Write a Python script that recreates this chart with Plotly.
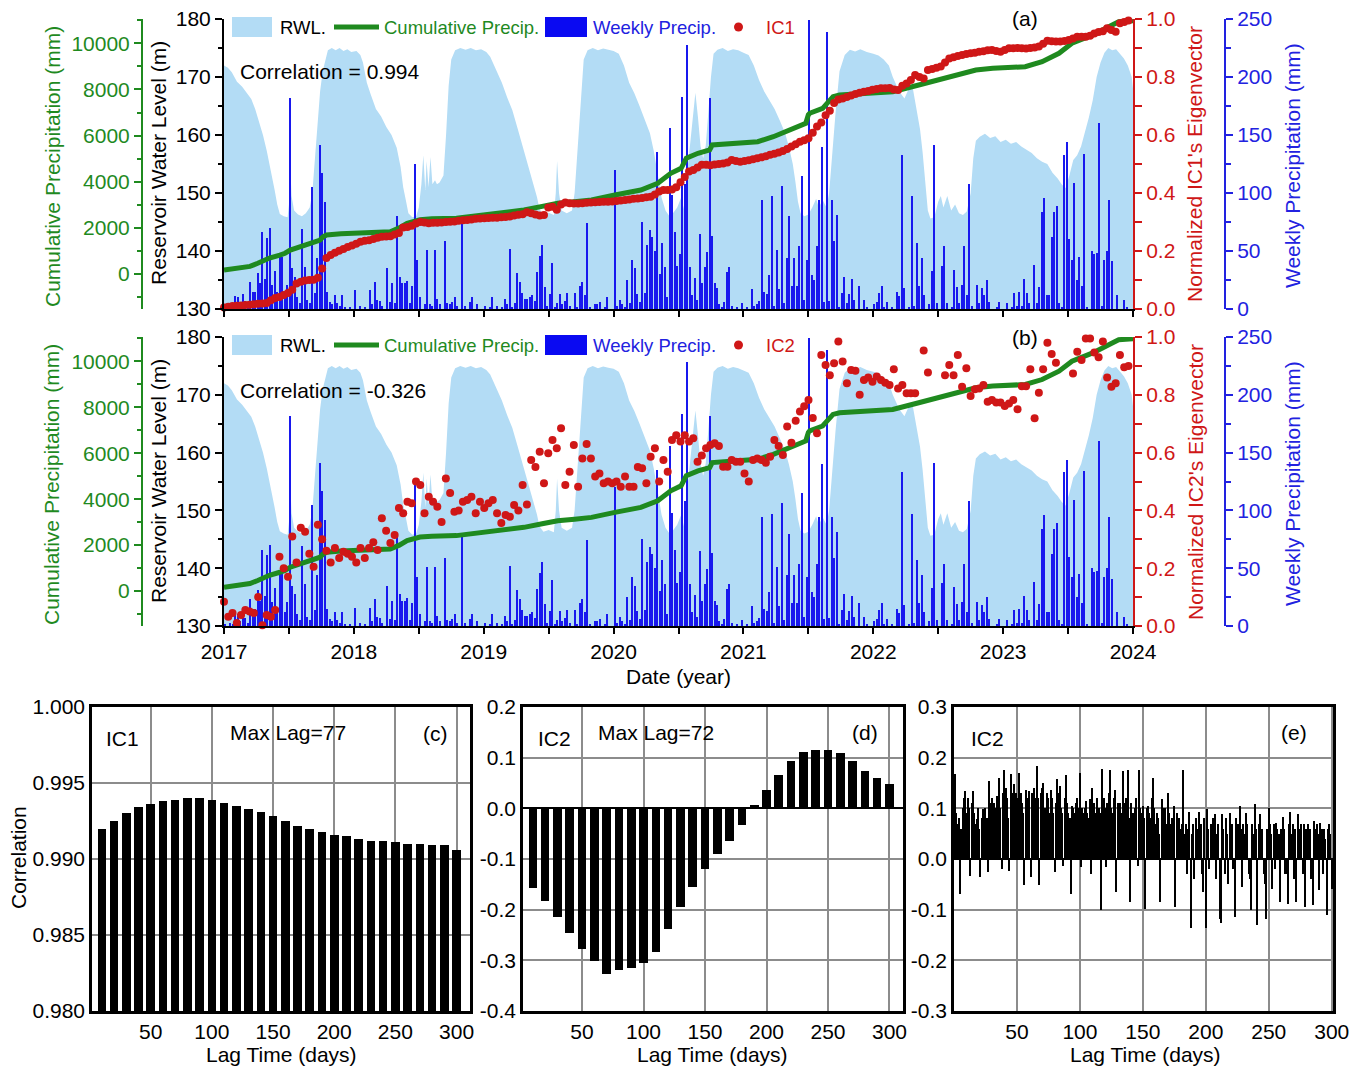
import plotly.graph_objects as go

# ---------------- data ----------------
# Reservoir water level (m), decimal year -> level
rwl_year = [
    2017.00, 2017.03, 2017.06, 2017.10, 2017.14, 2017.18, 2017.21, 2017.24, 2017.27, 2017.30,
    2017.33, 2017.36, 2017.39, 2017.41, 2017.43, 2017.46, 2017.49, 2017.50, 2017.51, 2017.52,
    2017.54, 2017.57, 2017.60, 2017.63, 2017.66, 2017.68, 2017.70, 2017.72, 2017.74, 2017.76,
    2017.78, 2017.80, 2017.83, 2017.86, 2017.89, 2017.92, 2017.95, 2017.98,
    2018.02, 2018.05, 2018.07, 2018.10, 2018.13, 2018.17, 2018.21, 2018.25, 2018.29, 2018.33,
    2018.36, 2018.38, 2018.40, 2018.42, 2018.45, 2018.48, 2018.50, 2018.52, 2018.535, 2018.55,
    2018.56, 2018.575, 2018.59, 2018.605, 2018.625, 2018.64, 2018.66, 2018.69, 2018.71, 2018.73,
    2018.75, 2018.78, 2018.82, 2018.86, 2018.90, 2018.94, 2018.98,
    2019.02, 2019.05, 2019.08, 2019.11, 2019.14, 2019.18, 2019.22, 2019.26, 2019.30, 2019.33,
    2019.36, 2019.39, 2019.41, 2019.43, 2019.46, 2019.50, 2019.54, 2019.555, 2019.565, 2019.58,
    2019.60, 2019.64, 2019.68, 2019.70, 2019.72, 2019.745, 2019.77, 2019.80, 2019.84, 2019.88,
    2019.92, 2019.96,
    2020.00, 2020.04, 2020.08, 2020.12, 2020.16, 2020.20, 2020.24, 2020.28, 2020.31, 2020.34,
    2020.37, 2020.40, 2020.43, 2020.46, 2020.49, 2020.52, 2020.545, 2020.56, 2020.59, 2020.61,
    2020.63, 2020.65, 2020.67, 2020.69, 2020.71, 2020.73, 2020.75, 2020.77, 2020.80, 2020.84,
    2020.88, 2020.92, 2020.96,
    2021.00, 2021.04, 2021.08, 2021.12, 2021.16, 2021.20, 2021.24, 2021.28, 2021.32, 2021.35,
    2021.38, 2021.40, 2021.42, 2021.44, 2021.47, 2021.50, 2021.53, 2021.56, 2021.58, 2021.61,
    2021.64, 2021.66, 2021.68, 2021.71, 2021.74, 2021.78, 2021.82, 2021.86, 2021.90, 2021.95,
    2022.00, 2022.04, 2022.08, 2022.12, 2022.15, 2022.18, 2022.20, 2022.24, 2022.27, 2022.30,
    2022.33, 2022.36, 2022.38, 2022.40, 2022.42, 2022.44, 2022.47, 2022.50, 2022.52, 2022.54,
    2022.57, 2022.60, 2022.63, 2022.66, 2022.69, 2022.72, 2022.75, 2022.77, 2022.79, 2022.82,
    2022.86, 2022.90, 2022.94, 2022.98,
    2023.02, 2023.06, 2023.10, 2023.14, 2023.18, 2023.22, 2023.26, 2023.30, 2023.34, 2023.38,
    2023.42, 2023.45, 2023.48, 2023.51, 2023.54, 2023.57, 2023.60, 2023.63, 2023.66, 2023.69,
    2023.72, 2023.75, 2023.78, 2023.81, 2023.84, 2023.87, 2023.90, 2023.93, 2023.96, 2023.99,
    2024.00,
]
rwl_level = [
    172.0, 171.6, 170.8, 169.2, 168.3, 167.0, 166.2, 164.5, 162.3, 160.0,
    157.2, 154.0, 150.5, 148.0, 146.4, 146.0, 145.8, 148.0, 155.0, 149.5,
    147.0, 146.3, 146.0, 146.5, 147.5, 150.0, 156.0, 162.5, 167.5, 171.0,
    173.0, 174.6, 175.0, 174.6, 175.0, 174.5, 174.8, 174.3,
    174.5, 173.8, 172.5, 169.0, 167.0, 164.5, 163.2, 161.4, 160.0, 157.8,
    154.5, 151.0, 148.8, 146.5, 145.8, 146.0, 147.5, 151.5, 156.5, 150.5,
    155.5, 151.0, 156.2, 151.5, 152.2, 151.5, 151.8, 153.0, 160.0, 168.5,
    173.0, 174.6, 175.0, 174.7, 175.0, 174.6, 174.8,
    174.3, 173.5, 172.0, 170.6, 169.0, 166.5, 164.3, 161.2, 158.0, 155.6,
    153.2, 151.0, 149.3, 147.2, 146.3, 146.6, 146.2, 150.0, 155.5, 150.0,
    147.0, 146.5, 147.0, 150.0, 157.0, 166.0, 173.0, 174.6, 175.0, 174.6,
    174.9, 174.7,
    174.5, 174.0, 172.0, 169.0, 167.2, 165.0, 162.6, 160.3, 157.2, 153.0,
    149.2, 147.0, 146.0, 146.6, 147.5, 149.2, 147.0, 152.0, 158.5, 164.0,
    167.3, 163.0, 158.0, 156.0, 158.2, 164.0, 170.0, 174.0, 174.7, 175.0,
    174.5, 174.8, 174.6,
    174.2, 173.8, 172.0, 169.5, 167.5, 166.0, 164.5, 162.5, 160.4, 158.0,
    155.0, 152.0, 148.5, 146.5, 146.0, 146.3, 147.5, 149.0, 147.5, 148.8,
    147.5, 150.0, 156.0, 164.0, 171.0, 173.8, 174.7, 174.4, 174.8, 174.3,
    174.0, 173.7, 173.0, 172.0, 170.0, 168.5, 167.5, 166.3, 167.8, 168.6,
    165.0, 161.0, 157.0, 151.5, 147.0, 145.6, 145.8, 148.5, 149.5, 147.5,
    149.5, 147.0, 148.0, 146.5, 146.2, 146.8, 150.0, 156.0, 159.0, 159.7,
    160.2, 159.5, 159.8, 158.8,
    159.2, 158.5, 158.8, 158.0, 157.5, 156.9, 156.0, 155.4, 155.0, 153.5,
    152.5, 151.5, 150.8, 153.0, 155.7, 156.5, 158.0, 160.5, 163.0, 166.0,
    170.0, 172.5, 174.2, 175.0, 174.6, 174.8, 174.0, 173.2, 172.0, 170.0,
    168.0,
]

# Cumulative precipitation (mm)
cum_year = [
    2017.00, 2017.10, 2017.20, 2017.26, 2017.30, 2017.35, 2017.43, 2017.47, 2017.51, 2017.58,
    2017.66, 2017.74, 2017.76, 2017.79, 2017.90, 2018.10, 2018.28, 2018.35, 2018.41, 2018.51,
    2018.60, 2018.79, 2019.02, 2019.15, 2019.31, 2019.45, 2019.57, 2019.70, 2019.83, 2020.01,
    2020.21, 2020.34, 2020.44, 2020.52, 2020.54, 2020.56, 2020.65, 2020.74, 2020.76, 2020.90,
    2021.11, 2021.23, 2021.38, 2021.48, 2021.50, 2021.51, 2021.61, 2021.69, 2021.74, 2021.95,
    2022.15, 2022.35, 2022.50, 2022.66, 2022.79, 2022.92, 2023.17, 2023.30, 2023.43, 2023.53,
    2023.69, 2023.84, 2023.89, 2024.00,
]
cum_mm = [
    170, 230, 330, 464, 560, 690, 820, 900, 1040, 1170,
    1330, 1474, 1600, 1690, 1740, 1780, 1834, 2000, 2200, 2350,
    2390, 2414, 2560, 2660, 2774, 2930, 3064, 3130, 3208, 3424,
    3641, 3931, 4365, 4582, 4800, 5015, 5232, 5375, 5592, 5650,
    5735, 5951, 6315, 6532, 6900, 6966, 7182, 7686, 7759, 7830,
    7902, 8192, 8420, 8626, 8843, 8917, 8986, 9203, 9567, 10000,
    10360, 10793, 10936, 10980,
]

# Weekly precipitation (mm), 52 weeks per year
precip_2017 = [2, 0, 3, 1, 11, 10, 4, 13, 7, 3, 23, 15, 15, 31, 22, 66, 26, 61, 70, 21,
               33, 15, 46, 45, 12, 21, 182, 35, 28, 10, 5, 69, 36, 8, 5, 105, 14, 44, 141, 117,
               92, 15, 6, 4, 12, 5, 3, 12, 1, 0, 2, 0]
precip_2018 = [16, 0, 3, 0, 2, 0, 16, 4, 23, 8, 7, 3, 0, 35, 6, 22, 5, 80, 28, 22,
               22, 24, 5, 20, 125, 42, 10, 0, 4, 51, 4, 3, 51, 9, 4, 0, 59, 5, 4, 6,
               10, 3, 0, 80, 3, 0, 6, 10, 0, 4, 0, 0]
precip_2019 = [3, 0, 2, 10, 0, 3, 0, 2, 9, 4, 52, 2, 5, 31, 23, 14, 9, 9, 10, 12,
               7, 32, 46, 55, 19, 3, 13, 40, 2, 5, 13, 4, 7, 14, 3, 0, 14, 2, 20, 23,
               12, 74, 2, 0, 4, 4, 6, 0, 2, 10, 0, 0]
precip_2020 = [120, 3, 8, 4, 2, 25, 5, 42, 35, 13, 6, 75, 14, 55, 68, 62, 50, 135, 30, 57,
               36, 10, 156, 98, 66, 37, 47, 183, 108, 228, 36, 12, 27, 8, 65, 22, 36, 49, 182, 63,
               22, 18, 4, 2, 6, 32, 36, 3, 0, 2, 0, 5]
precip_2021 = [0, 2, 0, 17, 3, 4, 7, 94, 15, 13, 29, 97, 3, 51, 17, 106, 5, 44, 80, 20,
               44, 20, 54, 115, 8, 42, 249, 29, 25, 54, 94, 140, 6, 239, 7, 94, 59, 81, 2, 14,
               28, 5, 13, 26, 8, 0, 20, 0, 8, 2, 0, 0]
precip_2022 = [4, 6, 14, 20, 2, 6, 0, 2, 0, 15, 11, 133, 18, 0, 2, 97, 3, 57, 20, 44,
               12, 0, 4, 33, 141, 5, 0, 37, 54, 5, 0, 2, 34, 19, 5, 21, 54, 12, 108, 3,
               0, 21, 5, 18, 12, 25, 6, 0, 0, 2, 6, 0]
precip_2023 = [0, 5, 0, 2, 14, 3, 15, 3, 26, 14, 5, 0, 38, 5, 19, 84, 96, 12, 12, 62,
               84, 89, 5, 2, 133, 144, 60, 42, 109, 25, 45, 20, 134, 2, 0, 50, 47, 48, 160, 3,
               42, 50, 94, 41, 0, 12, 0, 0, 8, 2, 0, 0]
weekly_by_year = {2017: precip_2017, 2018: precip_2018, 2019: precip_2019, 2020: precip_2020,
                  2021: precip_2021, 2022: precip_2022, 2023: precip_2023}

# Normalized eigenvectors, one value per 12-day acquisition starting 2017-01-01
ic1 = [
    0.005, 0.008, 0.010, 0.011, 0.012, 0.014, 0.015, 0.016, 0.018, 0.019,
    0.021, 0.030, 0.038, 0.041, 0.048, 0.055, 0.066, 0.088, 0.094, 0.098,
    0.100, 0.101, 0.108, 0.140, 0.176, 0.186, 0.194, 0.201, 0.207, 0.214,
    0.219, 0.225, 0.232, 0.235, 0.237, 0.241, 0.246, 0.249, 0.250, 0.251,
    0.257, 0.262, 0.281, 0.283, 0.287, 0.295, 0.300, 0.298, 0.296, 0.297,
    0.297, 0.298, 0.300, 0.301, 0.302, 0.304, 0.306, 0.307, 0.309, 0.311,
    0.312, 0.313, 0.314, 0.315, 0.315, 0.316, 0.317, 0.319, 0.322, 0.325,
    0.327, 0.334, 0.330, 0.326, 0.322, 0.324, 0.350, 0.353, 0.342, 0.360,
    0.367, 0.365, 0.364, 0.364, 0.365, 0.366, 0.367, 0.368, 0.369, 0.370,
    0.370, 0.371, 0.372, 0.374, 0.376, 0.378, 0.380, 0.381, 0.383, 0.385,
    0.387, 0.395, 0.405, 0.410, 0.410, 0.412, 0.420, 0.437, 0.455, 0.474,
    0.479, 0.488, 0.497, 0.497, 0.496, 0.498, 0.500, 0.502, 0.505, 0.514,
    0.510, 0.508, 0.510, 0.513, 0.516, 0.520, 0.523, 0.527, 0.532, 0.535,
    0.540, 0.545, 0.552, 0.560, 0.568, 0.577, 0.582, 0.589, 0.608, 0.629,
    0.643, 0.668, 0.684, 0.710, 0.722, 0.726, 0.731, 0.736, 0.741, 0.746,
    0.749, 0.752, 0.756, 0.759, 0.761, 0.761, 0.762, 0.757, 0.755, 0.770,
    0.778, 0.790, 0.807, 0.800, 0.795, 0.824, 0.828, 0.832, 0.836, 0.850,
    0.864, 0.868, 0.872, 0.876, 0.879, 0.882, 0.884, 0.887, 0.889, 0.892,
    0.893, 0.890, 0.887, 0.893, 0.899, 0.899, 0.900, 0.899, 0.898, 0.900,
    0.902, 0.905, 0.915, 0.925, 0.923, 0.922, 0.922, 0.924, 0.928, 0.933,
    0.939, 0.939, 0.939, 0.942, 0.950, 0.955, 0.958, 0.968, 0.962, 0.956,
    0.985, 0.990, 0.995,
]
ic2 = [
    0.084, 0.032, 0.045, 0.010, 0.038, 0.055, 0.050, 0.045, 0.100, 0.003,
    0.038, 0.032, 0.055, 0.240, 0.200, 0.170, 0.310, 0.220, 0.340, 0.326,
    0.250, 0.205, 0.350, 0.300, 0.260, 0.220, 0.270, 0.235, 0.257, 0.250,
    0.240, 0.220, 0.270, 0.235, 0.270, 0.290, 0.263, 0.373, 0.330, 0.287,
    0.315, 0.408, 0.390, 0.430, 0.425, 0.500, 0.488, 0.390, 0.447, 0.430,
    0.413, 0.360, 0.510, 0.460, 0.395, 0.400, 0.430, 0.436, 0.447, 0.390,
    0.430, 0.408, 0.425, 0.436, 0.390, 0.356, 0.384, 0.378, 0.419, 0.400,
    0.488, 0.420, 0.574, 0.550, 0.603, 0.494, 0.598, 0.644, 0.615, 0.684,
    0.488, 0.534, 0.626, 0.482, 0.580, 0.630, 0.580, 0.517, 0.528, 0.494,
    0.500, 0.494, 0.500, 0.482, 0.517, 0.482, 0.482, 0.550, 0.546, 0.494,
    0.586, 0.615, 0.500, 0.574, 0.534, 0.644, 0.660, 0.638, 0.660, 0.638,
    0.650, 0.568, 0.590, 0.615, 0.626, 0.632, 0.623, 0.551, 0.551, 0.574,
    0.568, 0.568, 0.528, 0.500, 0.574, 0.580, 0.574, 0.565, 0.586, 0.644,
    0.623, 0.592, 0.690, 0.634, 0.710, 0.742, 0.760, 0.782, 0.720, 0.667,
    0.938, 0.903, 0.868, 0.909, 0.984, 0.915, 0.840, 0.886, 0.883, 0.800,
    0.851, 0.860, 0.845, 0.863, 0.851, 0.842, 0.834, 0.888, 0.822, 0.834,
    0.805, 0.805, 0.805, None, 0.953, 0.877, None, None, None, 0.868,
    0.903, 0.868, 0.938, 0.828, 0.892, 0.796, 0.819, 0.822, 0.834, 0.776,
    0.782, 0.773, 0.773, 0.761, 0.770, 0.782, 0.750, 0.830, 0.830, 0.888,
    0.719, 0.807, 0.888, 0.980, 0.941, 0.911, None, None, None, 0.874,
    0.949, 0.920, 0.995, 0.995, 0.946, 0.930, 0.984, 0.860, 0.828, 0.840,
    0.938, 0.895, 0.900,
]

# Lagged cross-correlation
lag_10 = list(range(10, 301, 10))
corr_ic1 = [0.9920, 0.9925, 0.9930, 0.9934, 0.9936, 0.9938, 0.9939, 0.9940, 0.9940, 0.9939,
            0.9937, 0.9935, 0.9933, 0.9931, 0.9928, 0.9925, 0.9922, 0.9920, 0.9918, 0.9916,
            0.9915, 0.9913, 0.9912, 0.9912, 0.9911, 0.9910, 0.9910, 0.9909, 0.9909, 0.9906]
corr_ic2 = [-0.157, -0.182, -0.214, -0.247, -0.278, -0.301, -0.327, -0.319, -0.316, -0.305,
            -0.283, -0.239, -0.195, -0.155, -0.120, -0.091, -0.064, -0.032, 0.007, 0.036,
            0.066, 0.093, 0.112, 0.115, 0.115, 0.110, 0.094, 0.074, 0.060, 0.048]
lag_1 = list(range(1, 301))
corr_ic2_daily = [
    0.167, 0.09, 0.07, 0.08, -0.069, 0.06, 0.1, 0.12, 0.134, 0.09,
    0.12, 0.1, -0.033, 0.11, 0.134, 0.09, 0.07, 0.078, 0.1, 0.06,
    -0.036, 0.08, 0.098, 0.09, 0.1, 0.08, -0.026, 0.154, 0.11, 0.12,
    0.09, 0.11, 0.1, 0.124, 0.12, 0.16, 0.1, -0.02, 0.13, 0.176,
    0.14, 0.12, 0.08, -0.023, 0.167, 0.13, 0.11, 0.149, 0.13, 0.1,
    0.12, 0.17, 0.13, 0.11, 0.09, -0.052, 0.137, 0.12, 0.1, 0.134,
    -0.036, 0.13, 0.11, 0.14, 0.12, 0.184, 0.12, -0.052, 0.13, 0.14,
    0.15, 0.1, 0.09, 0.131, 0.12, 0.09, 0.137, 0.12, 0.09, -0.026,
    0.11, 0.157, 0.13, 0.144, 0.1, 0.09, -0.013, 0.12, 0.165, 0.11,
    0.09, 0.08, -0.069, 0.105, 0.1, 0.09, 0.11, 0.12, 0.1, 0.17,
    -0.016, 0.1, 0.09, 0.1, 0.114, 0.09, 0.08, 0.118, -0.029, 0.14,
    0.11, 0.09, 0.08, 0.12, 0.1, 0.09, -0.101, 0.178, 0.12, 0.1,
    -0.016, 0.11, 0.13, 0.176, 0.1, 0.09, 0.12, 0.137, -0.065, 0.11,
    0.1, 0.11, 0.09, 0.173, 0.11, 0.09, 0.12, 0.176, 0.08, -0.085,
    0.11, 0.09, 0.08, 0.1, 0.12, -0.013, 0.176, 0.1, 0.09, 0.105,
    0.08, -0.098, 0.1, 0.105, 0.09, 0.08, 0.12, 0.16, 0.1, 0.07,
    0.09, 0.08, 0.05, -0.085, 0.118, 0.1, 0.08, 0.1, 0.07, 0.131,
    0.09, 0.07, 0.08, 0.06, 0.105, -0.095, 0.09, 0.07, 0.08, 0.06,
    0.07, 0.176, 0.05, 0.07, -0.03, 0.06, 0.092, -0.137, 0.05, 0.07,
    -0.04, 0.08, 0.06, 0.05, 0.092, 0.07, -0.03, -0.065, 0.08, -0.137,
    0.098, 0.06, -0.02, 0.07, 0.05, 0.08, 0.088, -0.04, 0.05, 0.07,
    -0.118, -0.127, 0.088, 0.06, -0.03, 0.08, 0.05, -0.05, 0.09, 0.06,
    0.07, -0.02, -0.114, 0.08, 0.05, 0.07, 0.105, 0.06, -0.056, 0.07,
    0.05, 0.09, 0.07, -0.03, -0.04, -0.101, 0.07, 0.05, 0.108, 0.06,
    -0.13, 0.07, 0.088, 0.05, 0.06, -0.03, -0.05, -0.118, 0.06, 0.101,
    0.07, 0.05, -0.059, 0.07, -0.02, 0.072, 0.06, 0.05, -0.085, 0.06,
    0.082, 0.06, -0.03, -0.03, -0.088, 0.07, 0.092, 0.05, 0.07, -0.04,
    0.06, -0.085, 0.088, 0.06, 0.05, 0.07, -0.03, 0.069, -0.095, 0.06,
    0.07, 0.05, 0.06, -0.04, -0.091, 0.075, 0.06, 0.07, 0.05, -0.062,
    0.072, 0.06, -0.03, 0.06, 0.04, -0.111, 0.06, 0.069, 0.05, -0.06,
]

# ---------------- derived positions ----------------
week_x, week_mm = [], []
for yr, vals in weekly_by_year.items():
    for k, v in enumerate(vals):
        week_x.append(yr + (k + 0.5) / 52.0)
        week_mm.append(v)
ic_year = [2017 + 12.0 * i / 365.25 for i in range(len(ic1))]

# ---------------- styling ----------------
W, H = 1366, 1068
FONT = "Liberation Sans, Arial, sans-serif"
FS = 21
LEG_FS = 18.5
GREEN = "#1f8a1f"
RED = "#cf1717"
BLUE = "#2222e0"
BAR_BLUE = "#1818ee"
SKY = "#b3dcf5"
GRID = "#8c8c8c"


def fx(px):
    return px / W


def fy(py):
    return 1 - py / H


fig = go.Figure()

panels = [
    # (x axis, level y, weekly y, cumulative y, eigenvector y, eigenvector values)
    ("x", "y", "y2", "y3", "y4", ic1),
    ("x2", "y5", "y6", "y7", "y8", ic2),
]
for xa, yb, yw, yc, yi, icv in panels:
    fig.add_trace(go.Scatter(x=rwl_year, y=rwl_level, mode="lines", fill="tozeroy",
                             fillcolor=SKY, line=dict(width=0, color=SKY),
                             xaxis=xa, yaxis=yb, showlegend=False, hoverinfo="skip"))
    fig.add_trace(go.Bar(x=week_x, y=week_mm, width=0.011,
                         marker=dict(color=BAR_BLUE, line=dict(width=0)),
                         xaxis=xa, yaxis=yw, showlegend=False))
    fig.add_trace(go.Scatter(x=cum_year, y=cum_mm, mode="lines",
                             line=dict(color=GREEN, width=5),
                             xaxis=xa, yaxis=yc, showlegend=False))
    fig.add_trace(go.Scatter(x=ic_year, y=icv, mode="markers", cliponaxis=False,
                             marker=dict(color=RED, size=8, line=dict(width=0)),
                             xaxis=xa, yaxis=yi, showlegend=False))

# lag correlation panels
fig.add_trace(go.Bar(x=lag_10, y=corr_ic1, width=7, marker=dict(color="black", line=dict(width=0)),
                     xaxis="x3", yaxis="y9", showlegend=False))
fig.add_trace(go.Bar(x=lag_10, y=corr_ic2, width=7, marker=dict(color="black", line=dict(width=0)),
                     xaxis="x4", yaxis="y10", showlegend=False))
fig.add_trace(go.Bar(x=lag_1, y=corr_ic2_daily, width=1.0, marker=dict(color="black", line=dict(width=0)),
                     xaxis="x5", yaxis="y11", showlegend=False))

tf = dict(family=FONT, size=FS, color="black")


def time_x(anchor, labels):
    return dict(domain=[fx(224), fx(1133)], range=[2017, 2024], anchor=anchor, automargin=False,
                showline=True, linecolor="black", linewidth=2, mirror=False,
                ticks="outside", ticklen=6, tickwidth=2, tickcolor="black",
                tick0=2017, dtick=1, tickformat="d", showticklabels=labels,
                tickfont=tf, showgrid=False, zeroline=False,
                minor=dict(dtick=0.5, ticks="outside", ticklen=6, tickwidth=2, tickcolor="black"))


def left_level(anchor, dom):
    return dict(domain=dom, range=[130, 180], anchor=anchor, side="left", automargin=False,
                showline=True, linecolor="black", linewidth=2,
                ticks="outside", ticklen=7, tickwidth=2, tickcolor="black",
                dtick=10, tickfont=tf, showgrid=False, zeroline=False,
                minor=dict(dtick=5, ticks="outside", ticklen=4, tickwidth=2, tickcolor="black"))


def weekly_axis(over):
    return dict(overlaying=over, anchor="free", position=fx(1225), side="right", automargin=False,
                range=[0, 250], dtick=50, showline=True, linecolor=BLUE, linewidth=2,
                ticks="outside", ticklen=7, tickwidth=2, tickcolor=BLUE,
                tickfont=dict(family=FONT, size=FS, color=BLUE), showgrid=False, zeroline=False,
                minor=dict(dtick=25, ticks="outside", ticklen=5, tickwidth=2, tickcolor=BLUE))


def cum_axis(over):
    return dict(overlaying=over, anchor="free", position=fx(142), side="left", automargin=False,
                range=[-1517, 11053], tick0=0, dtick=2000, tickformat="d",
                showline=True, linecolor=GREEN, linewidth=2,
                ticks="outside", ticklen=7, tickwidth=2, tickcolor=GREEN,
                tickfont=dict(family=FONT, size=FS, color=GREEN), showgrid=False, zeroline=False,
                minor=dict(dtick=1000, ticks="outside", ticklen=4, tickwidth=2, tickcolor=GREEN))


def ic_axis(over, anchor):
    return dict(overlaying=over, anchor=anchor, side="right", range=[0, 1], automargin=False,
                dtick=0.2, tickformat=".1f", showline=True, linecolor=RED, linewidth=2,
                ticks="outside", ticklen=7, tickwidth=2, tickcolor=RED,
                tickfont=dict(family=FONT, size=FS, color=RED), showgrid=False, zeroline=False,
                minor=dict(dtick=0.1, ticks="outside", ticklen=7, tickwidth=2, tickcolor=RED))


def lag_x(dom, rng, anchor):
    return dict(domain=dom, range=rng, anchor=anchor, automargin=False,
                tickvals=[50, 100, 150, 200, 250, 300],
                showline=True, mirror=True, linecolor="black", linewidth=2.5, ticks="",
                showgrid=True, gridcolor=GRID, gridwidth=2, zeroline=False, tickfont=tf)


def lag_y(rng, vals, texts, anchor, zl):
    return dict(domain=[fy(1011), fy(707)], range=rng, anchor=anchor, automargin=False,
                tickvals=vals, ticktext=texts,
                showline=True, mirror=True, linecolor="black", linewidth=2.5, ticks="",
                showgrid=True, gridcolor=GRID, gridwidth=2, tickfont=tf,
                zeroline=zl, zerolinecolor="black", zerolinewidth=2)


dom_a = [fy(309), fy(19)]
dom_b = [fy(626), fy(337)]

fig.update_layout(
    template="none",
    width=W, height=H, margin=dict(l=0, r=0, t=0, b=0, pad=0),
    paper_bgcolor="white", plot_bgcolor="rgba(0,0,0,0)",
    font=dict(family=FONT, size=FS, color="black"),
    showlegend=False, bargap=0,
    xaxis=time_x("y", False),
    yaxis=left_level("x", dom_a),
    yaxis2=weekly_axis("y"),
    yaxis3=cum_axis("y"),
    yaxis4=ic_axis("y", "x"),
    xaxis2=time_x("y5", True),
    yaxis5=left_level("x2", dom_b),
    yaxis6=weekly_axis("y5"),
    yaxis7=cum_axis("y5"),
    yaxis8=ic_axis("y5", "x2"),
    xaxis3=lag_x([fx(92), fx(470)], [2, 311], "y9"),
    yaxis9=lag_y([0.98, 1.0], [0.98, 0.985, 0.99, 0.995, 1.0],
                 ["0.980", "0.985", "0.990", "0.995", "1.000"], "x3", False),
    xaxis4=lag_x([fx(523), fx(903)], [2, 311], "y10"),
    yaxis10=lag_y([-0.4, 0.2], [-0.4, -0.3, -0.2, -0.1, 0.0, 0.1, 0.2],
                  ["-0.4", "-0.3", "-0.2", "-0.1", "0.0", "0.1", "0.2"], "x4", True),
    xaxis5=lag_x([fx(954), fx(1333)], [0, 301], "y11"),
    yaxis11=lag_y([-0.3, 0.3], [-0.3, -0.2, -0.1, 0.0, 0.1, 0.2, 0.3],
                  ["-0.3", "-0.2", "-0.1", "0.0", "0.1", "0.2", "0.3"], "x5", True),
)

annotations = []
shapes = []


def text(x, y, s, color="black", size=FS, xanchor="center", angle=0):
    annotations.append(dict(x=fx(x), y=fy(y), xref="paper", yref="paper", text=s,
                            showarrow=False, xanchor=xanchor, yanchor="middle",
                            textangle=angle, font=dict(family=FONT, size=size, color=color)))


# legends, panel tags and axis titles for the two time-series panels
for off, ic_name, corr, tag in [(0, "IC1", "Correlation = 0.994", "(a)"),
                                 (318, "IC2", "Correlation = -0.326", "(b)")]:
    cy = 27 + off
    shapes.append(dict(type="rect", xref="paper", yref="paper", x0=fx(232), x1=fx(272),
                       y0=fy(cy + 10), y1=fy(cy - 10), fillcolor=SKY, line=dict(width=0)))
    shapes.append(dict(type="line", xref="paper", yref="paper", x0=fx(334), x1=fx(379),
                       y0=fy(cy), y1=fy(cy), line=dict(color=GREEN, width=5)))
    shapes.append(dict(type="rect", xref="paper", yref="paper", x0=fx(545), x1=fx(587),
                       y0=fy(cy + 10), y1=fy(cy - 10), fillcolor="#0a0af2", line=dict(width=0)))
    shapes.append(dict(type="circle", xref="paper", yref="paper", x0=fx(734), x1=fx(743),
                       y0=fy(cy + 4.5), y1=fy(cy - 4.5), fillcolor=RED, line=dict(width=0)))
    text(278, cy, "RWL.", size=LEG_FS, xanchor="left")
    text(382, cy, "Cumulative Precip.", GREEN, size=LEG_FS, xanchor="left")
    text(591, cy, "Weekly Precip.", BLUE, size=LEG_FS, xanchor="left")
    text(764, cy, ic_name, RED, size=LEG_FS, xanchor="left")
    text(1025, 19 + off, tag)
    text(238, 72 + off, corr, xanchor="left")
    text(52, 167 + off, "Cumulative Precipitation (mm)", GREEN, angle=-90)
    text(159, 163 + off, "Reservoir Water Level (m)", angle=-90)
    text(1195, 164 + off, "Normalized %s's Eigenvector" % ic_name, RED, angle=-90)
    text(1292, 166 + off, "Weekly Precipitation (mm)", BLUE, angle=-90)

text(678, 676, "Date (year)")

# lag panels
text(18, 858, "Correlation", angle=-90)
for cx in (281, 712, 1145):
    text(cx, 1054, "Lag Time (days)")
text(122, 738, "IC1")
text(288, 732, "Max Lag=77")
text(435, 733, "(c)")
text(554, 738, "IC2")
text(656, 732, "Max Lag=72")
text(865, 732, "(d)")
text(987, 738, "IC2")
text(1294, 732, "(e)")

fig.update_layout(annotations=annotations, shapes=shapes)

fig.write_html("out.html")
